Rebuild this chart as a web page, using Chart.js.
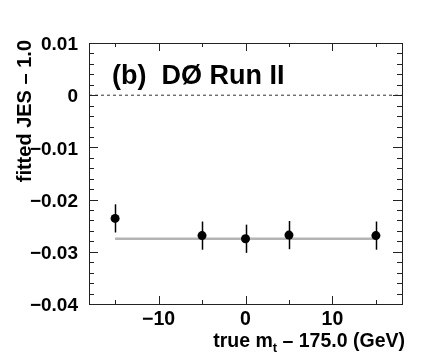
<!DOCTYPE html>
<html>
<head>
<meta charset="utf-8">
<script src="https://cdn.jsdelivr.net/npm/chart.js@4/dist/chart.umd.min.js"></script>
<style>
    html, body { margin: 0; padding: 0; background: #fff; }
    #z_jes_canvas { display: block; }
</style>
</head>
<body>
<canvas id="z_jes_canvas" width="448" height="363"></canvas>
<script>
// true m_t - 175 GeV for each ensemble, and fitted JES - 1.0 with its error
const massShift = [-15, -5, 0, 5, 15];
const jesOffset = [-0.0236, -0.0269, -0.0275, -0.0268, -0.0269];
const jesError = [0.0027, 0.0027, 0.0027, 0.0027, 0.0027];

// horizontal fit through the points
const fitX = [-15, 15];
const fitY = [-0.0275, -0.0275];

// dashed reference at zero
const zeroX = [-18, 18];
const zeroY = [0, 0];

const xRange = [-18, 18];
const yRange = [-0.04, 0.01];
const xMinorStep = 5;
const yMinorStep = 0.002;

const FONT = '"Liberation Sans", Arial, Helvetica, sans-serif';

function toPoints(xs, ys) {
    return xs.map((x, i) => ({x: x, y: ys[i]}));
}

function fmtY(v) {
    if (Math.abs(v) < 1e-9) return '0';
    return v.toFixed(2).replace('-', '\u2212');
}

function fmtX(v) {
    return String(v).replace('-', '\u2212');
}

const decorations = {
    id: 'decorations',
    afterDatasetsDraw(chart) {
        const ctx = chart.ctx;
        const xs = chart.scales.x, ys = chart.scales.y;
        ctx.save();
        ctx.strokeStyle = '#000';
        ctx.lineWidth = 1.5;
        for (let i = 0; i < massShift.length; i++) {
            let px = Math.round(xs.getPixelForValue(massShift[i])) + 0.5;
            ctx.beginPath();
            ctx.moveTo(px, ys.getPixelForValue(jesOffset[i] + jesError[i]));
            ctx.lineTo(px, ys.getPixelForValue(jesOffset[i] - jesError[i]));
            ctx.stroke();
        }
        ctx.restore();
    },
    afterDraw(chart) {
        const ctx = chart.ctx;
        const a = chart.chartArea;
        const xs = chart.scales.x, ys = chart.scales.y;
        ctx.save();
        ctx.strokeStyle = '#222';
        ctx.lineWidth = 1;

        // frame
        ctx.strokeRect(Math.round(a.left) + 0.5, Math.round(a.top) + 0.5,
            Math.round(a.right - a.left), Math.round(a.bottom - a.top));

        // y ticks, left and right, pointing inward
        ctx.beginPath();
        let n = Math.round((yRange[1] - yRange[0]) / yMinorStep);
        for (let k = 0; k <= n; k++) {
            let v = yRange[0] + k * yMinorStep;
            let major = k % 5 === 0;
            let len = major ? 9 : 5;
            let py = Math.round(ys.getPixelForValue(v)) + 0.5;
            ctx.moveTo(a.left, py); ctx.lineTo(a.left + len, py);
            ctx.moveTo(a.right, py); ctx.lineTo(a.right - len, py);
        }
        // x ticks, bottom and top
        for (let v = -15; v <= 15; v += xMinorStep) {
            let major = v % 10 === 0;
            let len = major ? 8 : 4;
            let px = Math.round(xs.getPixelForValue(v)) + 0.5;
            ctx.moveTo(px, a.bottom); ctx.lineTo(px, a.bottom - len);
            ctx.moveTo(px, a.top); ctx.lineTo(px, a.top + len);
        }
        ctx.stroke();

        ctx.fillStyle = '#000';
        // label inside the frame
        ctx.font = 'bold 27px ' + FONT;
        ctx.textAlign = 'left';
        ctx.textBaseline = 'alphabetic';
        ctx.fillText('(b)  D\u00d8 Run II', 112, 84);

        // x axis title with subscript
        let part1 = 'true m', part3 = ' \u2013 175.0 (GeV)';
        ctx.font = 'bold 19.5px ' + FONT;
        let w1 = ctx.measureText(part1).width;
        let w3 = ctx.measureText(part3).width;
        ctx.font = 'bold 13px ' + FONT;
        let w2 = ctx.measureText('t').width;
        let right = 405, base = 347;
        let x0 = right - w1 - w2 - w3;
        ctx.font = 'bold 19.5px ' + FONT;
        ctx.fillText(part1, x0, base);
        ctx.fillText(part3, x0 + w1 + w2, base);
        ctx.font = 'bold 13px ' + FONT;
        ctx.fillText('t', x0 + w1, base + 5);

        // y axis title, rotated
        ctx.translate(25, 40);
        ctx.rotate(-Math.PI / 2);
        ctx.font = 'bold 20px ' + FONT;
        ctx.textAlign = 'right';
        ctx.textBaseline = 'middle';
        ctx.fillText('fitted JES \u2013 1.0', 0, 0);
        ctx.restore();
    }
};

const canvas = document.getElementById('z_jes_canvas');

const chart = new Chart(canvas, {
    type: 'scatter',
    data: {
        datasets: [{
            data: toPoints(massShift, jesOffset),
            backgroundColor: '#000',
            borderColor: '#000',
            pointRadius: 4.5,
            pointBorderWidth: 0,
            showLine: false
        }, {
            data: toPoints(fitX, fitY),
            showLine: true,
            borderColor: '#b4b4b4',
            borderWidth: 2.5,
            pointRadius: 0
        }, {
            data: toPoints(zeroX, zeroY),
            showLine: true,
            borderColor: '#333',
            borderWidth: 1,
            borderDash: [3, 3],
            pointRadius: 0
        }]
    },
    options: {
        responsive: false,
        animation: false,
        events: [],
        layout: {padding: {top: 43, right: 46, left: 0, bottom: 0}},
        plugins: {
            legend: {display: false},
            tooltip: {enabled: false}
        },
        scales: {
            x: {
                type: 'linear',
                min: xRange[0],
                max: xRange[1],
                grid: {display: false},
                border: {display: false},
                ticks: {
                    stepSize: 10,
                    includeBounds: false,
                    color: '#000',
                    padding: -4,
                    font: {family: FONT, size: 19.5, weight: 'bold'},
                    callback: v => fmtX(v)
                },
                afterFit: s => { s.height = 59; }
            },
            y: {
                type: 'linear',
                min: yRange[0],
                max: yRange[1],
                grid: {display: false},
                border: {display: false},
                ticks: {
                    stepSize: 0.01,
                    includeBounds: false,
                    color: '#000',
                    padding: 3,
                    labelOffset: 2,
                    font: {family: FONT, size: 19, weight: 'bold'},
                    callback: v => fmtY(v)
                },
                afterFit: s => { s.width = 89; }
            }
        }
    },
    plugins: [decorations]
});
</script>
</body>
</html>
